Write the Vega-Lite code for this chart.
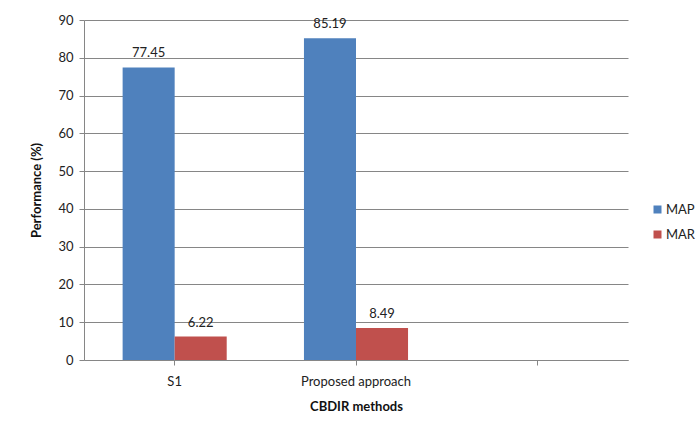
{
  "$schema": "https://vega.github.io/schema/vega-lite/v6.json",
  "width": 544,
  "height": 340,
  "autosize": {"type": "none"},
  "padding": {"left": 84, "top": 20, "right": 68, "bottom": 76},
  "background": "#ffffff",
  "data": {
    "values": [
      {"method": "S1", "metric": "MAP", "value": 77.45},
      {"method": "S1", "metric": "MAR", "value": 6.22},
      {"method": "Proposed approach", "metric": "MAP", "value": 85.19},
      {"method": "Proposed approach", "metric": "MAR", "value": 8.49}
    ]
  },
  "encoding": {
    "x": {
      "field": "method",
      "type": "nominal",
      "sort": null,
      "scale": {"domain": ["S1", "Proposed approach", " "], "paddingInner": 0.426, "paddingOuter": 0.213},
      "axis": {
        "title": "CBDIR methods",
        "labelAngle": 0,
        "labelPadding": 10,
        "titlePadding": 12,
        "tickSize": 5,
        "domainColor": "#868686",
        "tickColor": "#868686",
        "grid": false
      }
    },
    "xOffset": {"field": "metric", "type": "nominal", "scale": {"paddingInner": 0, "paddingOuter": 0}},
    "y": {
      "field": "value",
      "type": "quantitative",
      "scale": {"domain": [0, 90], "nice": false},
      "axis": {
        "title": "Performance (%)",
        "values": [0, 10, 20, 30, 40, 50, 60, 70, 80, 90],
        "tickSize": 5,
        "labelPadding": 6,
        "titlePadding": 14,
        "grid": true,
        "gridColor": "#868686",
        "domainColor": "#868686",
        "tickColor": "#868686"
      }
    }
  },
  "layer": [
    {
      "mark": {"type": "bar"},
      "encoding": {
        "color": {
          "field": "metric",
          "type": "nominal",
          "scale": {"domain": ["MAP", "MAR"], "range": ["#4F81BD", "#C0504D"]},
          "legend": {
            "title": null,
            "orient": "none",
            "legendX": 567,
            "legendY": 183,
            "symbolType": "square",
            "symbolSize": 64,
            "symbolStrokeWidth": 0,
            "labelFontSize": 13,
            "labelOffset": 2,
            "rowPadding": 11,
            "padding": 0
          }
        }
      }
    },
    {
      "mark": {"type": "text", "baseline": "alphabetic", "dy": -10, "fontSize": 13, "color": "#222222", "font": "Lato"},
      "encoding": {
        "text": {"field": "value", "type": "quantitative", "format": ".2f"}
      }
    }
  ],
  "config": {
    "view": {"stroke": null},
    "font": "Lato",
    "axis": {
      "labelFont": "Lato",
      "labelFontSize": 13,
      "labelColor": "#222222",
      "titleFont": "Lato",
      "titleFontSize": 13,
      "titleFontWeight": "bold",
      "titleColor": "#111111"
    },
    "legend": {"labelFont": "Lato", "labelColor": "#222222"}
  }
}
